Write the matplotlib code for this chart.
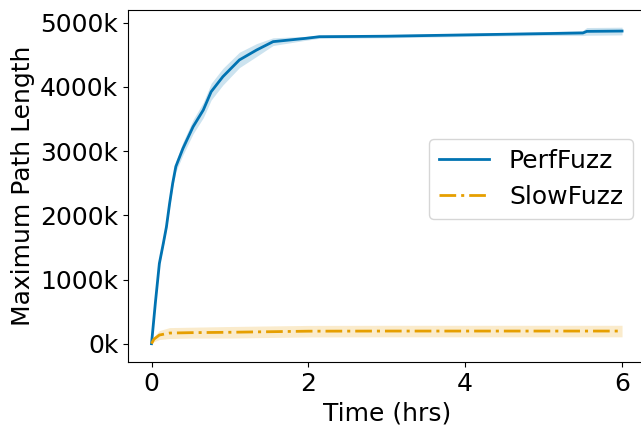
import numpy as np
import matplotlib.pyplot as plt

# hours vs maximum path length (in thousands)
perf_t = [0, 0.05, 0.1, 0.15, 0.19, 0.23, 0.27, 0.31, 0.4, 0.53, 0.66, 0.76, 0.91, 1.12, 1.34, 1.55, 1.97,
          2.14, 2.5, 3.0, 3.5, 4.0, 4.5, 5.0, 5.5, 5.55, 6.0]
perf_y = [0, 650, 1250, 1560, 1820, 2180, 2500, 2760, 3040, 3380, 3640, 3925, 4160, 4420, 4575, 4705, 4757,
          4782, 4785, 4790, 4800, 4810, 4820, 4830, 4840, 4865, 4870]
perf_err = [0, 20, 30, 35, 40, 50, 60, 80, 100, 110, 120, 130, 130, 120, 100, 60, 30,
            25, 25, 25, 25, 25, 25, 30, 40, 60, 60]

slow_t = [0, 0.03, 0.1, 0.23, 0.5, 1.0, 1.4, 2.0, 3.0, 4.0, 5.0, 6.0]
slow_y = [0, 70, 135, 166, 172, 178, 185, 195, 197, 197, 197, 197]
slow_err = [0, 40, 70, 85, 85, 90, 90, 90, 90, 90, 90, 90]

blue = "#0173b2"
orange = "#e69f00"

plt.rcParams['font.size'] = 18
fig, ax = plt.subplots(figsize=(6.41, 4.28), dpi=100)

pt = np.array(perf_t)
py = np.array(perf_y)
pe = np.array(perf_err)
st = np.array(slow_t)
sy = np.array(slow_y)
se = np.array(slow_err)

ax.plot(pt, py, color=blue, lw=2, label="PerfFuzz")
ax.fill_between(pt, py - pe, py + pe, color=blue, alpha=0.2, lw=0)
ax.plot(st, sy, color=orange, lw=2, ls="-.", dashes=(6, 1.8, 1.1, 1.8), label="SlowFuzz")
ax.fill_between(st, sy - se, sy + se, color=orange, alpha=0.2, lw=0)

ax.set_xlim(-0.3, 6.3)
ax.set_ylim(-285, 5198)
ax.set_xticks([0, 2, 4, 6])
ax.set_yticks([0, 1000, 2000, 3000, 4000, 5000])
ax.set_yticklabels(["%dk" % v for v in [0, 1000, 2000, 3000, 4000, 5000]])
ax.set_xlabel("Time (hrs)")
ax.set_ylabel("Maximum Path Length")
ax.legend(loc="center right", bbox_to_anchor=(1.0, 0.52))

ax.set_position([128 / 641, 1 - 362 / 428, (645.6 - 128) / 641, (362 - 10) / 428])
fig.savefig("out.png")
